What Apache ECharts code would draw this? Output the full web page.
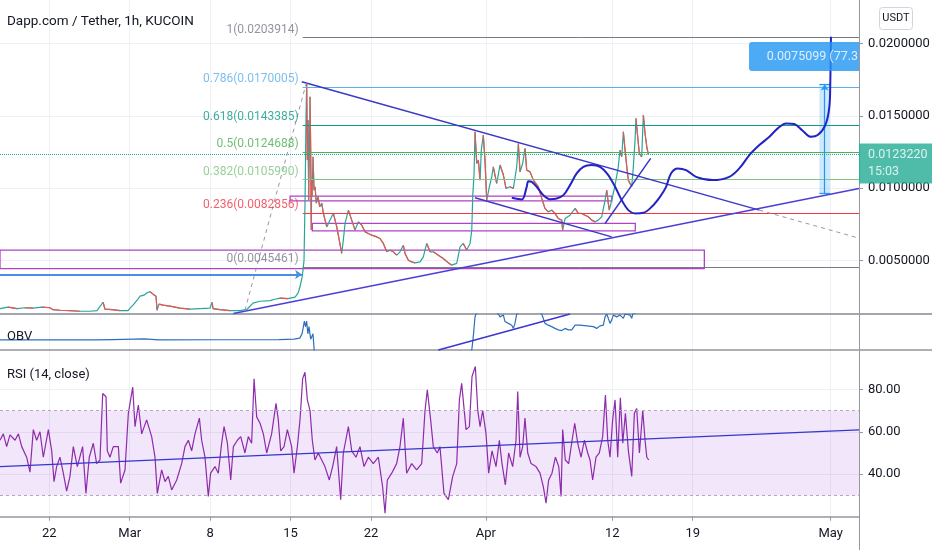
<!DOCTYPE html>
<html><head><meta charset="utf-8">
<script src="https://cdn.jsdelivr.net/npm/echarts/dist/echarts.min.js"></script>
<style>html,body{margin:0;padding:0;background:#fff}#c{width:932px;height:550px}</style>
</head><body><div id="c"></div>
<script>
// ---- axis ticks (days from 1 Mar 2021) ----
const tickDays = [-7, 0, 7, 14, 21, 31, 42, 49, 61];
const tickLabels = ['22', 'Mar', '8', '15', '22', 'Apr', '12', '19', 'May'];
const priceTicks = [0.005, 0.010, 0.015, 0.020];
const rsiTicks = [40, 60, 80];

// ---- price path [day, price] ----
const price = [[-11.29,0.00169],[-10.59,0.00179],[-9.81,0.00169],[-9.11,0.00175],[-8.42,0.00172],[-7.63,0.00179],[-6.94,0.00175],[-6.68,0.00162],[-6.07,0.00158],[-5.20,0.00155],[-4.33,0.00151],[-3.46,0.00151],[-2.85,0.00155],[-2.32,0.00213],[-2.15,0.00165],[-1.54,0.00162],[-0.84,0.00155],[-0.15,0.00155],[0.03,0.00172],[0.29,0.00193],[0.64,0.00227],[0.90,0.00255],[1.24,0.00262],[1.51,0.00279],[1.77,0.00286],[2.03,0.00269],[2.29,0.00255],[2.38,0.00158],[2.55,0.00200],[2.90,0.00193],[3.50,0.00186],[4.37,0.00172],[5.24,0.00165],[6.12,0.00169],[6.99,0.00172],[7.16,0.00213],[7.25,0.00169],[7.86,0.00162],[8.73,0.00155],[9.60,0.00155],[10.21,0.00165],[10.73,0.00207],[11.34,0.00220],[12.21,0.00224],[12.64,0.00234],[13.08,0.00241],[13.78,0.00238],[14.39,0.00248],[14.65,0.00276],[14.82,0.00320],[15.00,0.00386],[15.08,0.00434],
[15.17,0.00503],[15.26,0.00918],[15.34,0.01470],[15.40,0.01722],[15.46,0.01194],[15.52,0.01470],[15.58,0.00918],[15.63,0.01194],[15.69,0.01631],[15.75,0.01263],[15.80,0.00711],[15.84,0.01056],[15.87,0.00945],[15.95,0.01217],[16.04,0.00987],[16.13,0.01010],[16.24,0.00897],[16.39,0.00941],[16.54,0.00872],[16.71,0.00897],[16.85,0.00828],[17.15,0.00733],[17.43,0.00780],[17.72,0.00828],[18.02,0.00733],[18.45,0.00550],[18.59,0.00642],[18.74,0.00757],[19.03,0.00849],[19.32,0.00780],[19.61,0.00711],[19.90,0.00768],[20.19,0.00745],[20.48,0.00699],[20.77,0.00688],[21.06,0.00676],[21.50,0.00664],[21.78,0.00653],[22.07,0.00619],[22.37,0.00561],[22.65,0.00573],[22.94,0.00561],[23.24,0.00538],[23.52,0.00561],[23.81,0.00607],[23.96,0.00550],[24.25,0.00503],[24.54,0.00492],[24.83,0.00485],[25.27,0.00492],[25.55,0.00526],[25.85,0.00619],[26.14,0.00561],[26.42,0.00561],[26.86,0.00538],[27.29,0.00515],[27.73,0.00485],[28.02,0.00469],[28.46,0.00481],[28.75,0.00595],[29.03,0.00619],[29.33,0.00573],[29.62,0.00619],[29.77,0.00711],[29.85,0.00941],[29.97,0.01102],[30.05,0.01390],[30.20,0.01171],[30.34,0.01194],[30.49,0.01056],[30.60,0.01263],[30.77,0.01367],[30.92,0.01194],[31.07,0.00918],[31.30,0.01010],[31.51,0.01079],[31.64,0.01148],[31.94,0.01033],[32.23,0.01160],[32.52,0.01091],[32.75,0.00999],[33.10,0.01010],[33.39,0.00999],[33.68,0.01148],[33.82,0.01309],[33.97,0.01113],[34.20,0.01171],[34.40,0.01275],[34.55,0.01125],[34.84,0.01113],[35.13,0.01056],[35.56,0.01010],[35.86,0.00930],[36.14,0.00861],[36.43,0.00837],[36.73,0.00849],[37.01,0.00826],[37.30,0.00791],[37.60,0.00780],[37.68,0.00711],[37.89,0.00791],[38.32,0.00814],[38.76,0.00861],[39.04,0.00826],[39.34,0.00826],[39.63,0.00814],[39.91,0.00803],[40.21,0.00780],[40.50,0.00768],[40.78,0.00780],[41.08,0.00803],[41.37,0.00918],[41.51,0.00987],[41.65,0.00897],[41.74,0.00849],[41.95,0.00918],[42.15,0.00987],[42.32,0.01056],[42.52,0.01148],[42.67,0.01263],[42.82,0.01217],[42.96,0.01390],[43.11,0.01263],[43.26,0.01148],[43.39,0.01056],[43.69,0.01010],[43.83,0.01148],[43.98,0.01332],[44.06,0.01482],[44.18,0.01378],[44.35,0.01240],[44.56,0.01217],[44.70,0.01505],[44.85,0.01378],[45.00,0.01286],[45.14,0.01232]];
const lastPrice = 0.0123220;
const lastTime = '15:03';

// ---- OBV (pane-relative units) ----
const obv = [[-11.29,28],[-3,28],[-1.5,29],[1.3,31],[2.5,28],[8,28.5],[13,29],[14.3,30],[14.8,33],[15.0,45],[15.2,80],[15.3,65],[15.4,80],[15.5,45],[15.6,65],[15.75,30],[15.85,28],[15.95,45],[16.1,-20],[17,-150],[25,-250],[29.5,-100],[29.77,0],[29.9,37],[30.05,92],[30.14,100],[31,130],[32.08,100],[32.23,92],[32.52,97],[32.66,79],[32.95,74],[33.25,69],[33.39,60],[33.53,74],[33.68,100],[34.8,125],[35.86,100],[36.14,74],[36.43,69],[36.72,65],[37.01,60],[37.30,56],[37.60,54],[37.89,60],[38.17,56],[38.47,56],[38.76,69],[39.19,69],[39.77,67],[40.35,65],[40.64,60],[40.93,67],[41.22,69],[41.37,92],[41.51,100],[41.65,88],[41.80,74],[41.94,83],[42.09,97],[42.38,92],[42.68,97],[42.96,88],[43.11,100],[43.54,97],[43.69,88],[43.78,100],[45.14,115]];
const obvTrend = [[26.86,0],[38.32,100]];

// ---- RSI (14, close) ----
const rsi = [[-11.29,56],[-11.0,59],[-10.71,53],[-10.42,58.5],[-9.98,56],[-9.69,59],[-9.40,53],[-8.97,48],[-8.68,41],[-8.39,61],[-8.10,56],[-7.81,60],[-7.52,48],[-7.08,61],[-6.79,51],[-6.59,36.5],[-6.36,43.6],[-6.07,48],[-5.78,40.5],[-5.49,32],[-5.20,39],[-4.91,53],[-4.56,43.6],[-4.10,53],[-3.81,31],[-3.52,48],[-3.17,54.6],[-2.88,45],[-2.59,46.7],[-2.35,78],[-2.06,76.5],[-1.95,51],[-1.72,48],[-1.43,53],[-0.99,53],[-0.79,35.8],[-0.41,42],[-0.12,68.7],[0.26,81],[0.46,62.4],[0.75,72.6],[1.04,59],[1.47,65.6],[1.91,57.7],[2.20,48],[2.40,31],[2.78,42],[3.07,36.5],[3.36,39],[3.65,32.6],[4.09,37.3],[4.52,45],[4.81,53],[5.10,56],[5.39,51],[5.68,59],[6.06,66.4],[6.26,56],[6.55,48],[6.84,29.5],[7.04,40.5],[7.42,43.6],[7.71,40.5],[8.00,54.6],[8.21,62.4],[8.50,54.6],[8.79,37.3],[9.02,53],[9.37,56],[9.66,57.7],[10.03,50],[10.32,57.7],[10.61,54.6],[10.82,85],[11.05,67],[11.34,64],[11.63,59],[11.92,50],[12.35,59],[12.73,73.4],[12.93,65.6],[13.14,51],[13.43,53],[13.72,61],[14.09,53],[14.30,40.5],[14.59,53],[14.82,65.6],[15.05,85],[15.25,88],[15.46,75],[15.69,70],[15.89,56],[16.12,46.7],[16.41,50],[16.71,46.7],[16.99,43.6],[17.37,37.3],[17.66,43.6],[18.01,53],[18.36,28],[18.59,50],[19.03,62.4],[19.32,51],[19.69,48],[20.04,53],[20.39,43.6],[20.77,48],[21.20,45],[21.64,48],[22.01,34],[22.22,21.6],[22.42,37.3],[22.80,40.5],[23.23,45],[23.52,53],[23.81,66.4],[24.10,40.5],[24.54,45],[24.97,42],[25.41,45],[25.70,70],[25.90,79.7],[26.19,65.6],[26.42,53],[26.77,50],[27.00,53],[27.35,31],[27.73,28],[28.11,39],[28.46,45],[28.69,75],[28.89,82.8],[29.27,61],[29.56,62.4],[29.79,86],[30.08,90.7],[30.29,70],[30.49,62.4],[30.72,70],[31.01,59],[31.24,40.5],[31.53,51],[31.88,43.6],[32.17,56],[32.40,45],[32.69,35],[32.98,50],[33.33,43.6],[33.62,56],[33.77,79],[33.97,48],[34.20,53],[34.40,66.4],[34.64,50],[34.93,45],[35.36,43.6],[35.71,40.5],[36.00,34],[36.23,26.4],[36.46,37.3],[36.75,40.5],[37.05,48],[37.34,43.6],[37.54,29.5],[37.68,61],[37.91,46.7],[38.20,45],[38.50,56],[38.73,64],[38.99,54.6],[39.28,48],[39.57,56],[39.86,50],[40.06,46.7],[40.29,37.3],[40.58,48],[40.87,50],[41.16,57.7],[41.40,77.3],[41.60,56],[41.80,48],[42.03,65.6],[42.24,75],[42.47,48],[42.70,76],[42.91,54.6],[43.14,68.7],[43.40,51],[43.69,39],[43.92,68.7],[44.12,71],[44.36,50],[44.65,70],[44.85,56],[45.00,48],[45.17,46.7]];
const rsiBand = [30, 70];
const rsiTrend = [[-11.29,43.6],[63.47,60.9]];

// ---- Fibonacci retracement ----
const fibStart = 15.05;
const fibLevels = [1, 0.786, 0.618, 0.5, 0.382, 0.236, 0];
const fibPrices = [0.0203914, 0.0170005, 0.0143385, 0.0124688, 0.0105990, 0.0082856, 0.0045461];
const fibColors = ['#787b86', '#5eaeea', '#0f9a86', '#4caf50', '#7cc47f', '#f23645', '#787b86'];

// ---- drawings ----
const zones = [[-12,0.005725,50.01,0.004448],[13.96,0.009455,41.95,0.00913],[15.89,0.007569,44.0,0.007058]];
const trendLines = [[14.97,0.017348,54.80,0.008488],[9.02,0.001354,63.47,0.009986],[30.05,0.009337,41.95,0.006644],[41.37,0.007569,45.34,0.012058]];
const dashedLines = [[54.80,0.008488,63.47,0.006554],[10.03,0.001582,15.40,0.01735]];
const arrowLine = [-11.29, 0.004047, 15.0, 0.004047];
const brushPath = [[33.25,0.009337],[34.12,0.009227],[34.55,0.010097],[34.69,0.010490],[34.99,0.010442],[35.42,0.010097],[36.0,0.009524],[36.58,0.009247],[37.16,0.009296],[37.74,0.009524],[38.32,0.010214],[38.90,0.011022],[39.48,0.011478],[40.21,0.011595],[40.93,0.011478],[41.65,0.010905],[42.24,0.010097],[42.82,0.009178],[43.39,0.008488],[43.98,0.00826],[44.70,0.008301],[45.43,0.008716],[46.15,0.009406],[46.68,0.010097],[47.11,0.011022],[47.69,0.011367],[48.42,0.01125],[49.29,0.010787],[50.74,0.01056],[52.18,0.010787],[53.05,0.011367],[53.93,0.012286],[54.80,0.012977],[55.67,0.01355],[56.40,0.01413],[57.12,0.014475],[57.84,0.014427],[58.57,0.013964],[59.29,0.01355],[59.88,0.013667],[60.54,0.014358],[60.89,0.015622],[60.97,0.017238],[61.03,0.020456]];
const measure = {d0: 60.02, d1: 60.95, from: 0.00965, to: 0.01716};
const measureText = '0.0075099 (77.30%)';
const measureLabelPrice = 0.01909;

// ---- layout constants ----
const X_MIN = -11.29, X_MAX = 63.47, Y_MIN = 0.00132, Y_MAX = 0.02299;
const FONT = 'Roboto, "Noto Sans", sans-serif';
const TXT = '#131722';

const priceDown = [];
for (let i = 1; i < price.length; i++) {
  if (price[i][1] < price[i - 1][1]) priceDown.push(price[i - 1], price[i], [price[i][0], null]);
}

const gridLine = {show: true, lineStyle: {color: '#eef0f4', width: 1}};
function xAxis(gi) {
  const bottom = gi === 2;
  return {type: 'value', gridIndex: gi, min: X_MIN, max: X_MAX,
    axisLine: {show: bottom, onZero: false, lineStyle: {color: '#9598a1', width: 1.5}},
    axisTick: {show: bottom, customValues: tickDays, length: 4, lineStyle: {color: '#9598a1'}},
    axisLabel: {show: bottom, customValues: tickDays, margin: 11, fontSize: 13, fontFamily: FONT, color: TXT,
      formatter: v => { const i = tickDays.indexOf(Math.round(v)); return i < 0 ? '' : tickLabels[i]; }},
    splitLine: gridLine};
}
function yAxis(gi, min, max, ticks, digits) {
  return {type: 'value', gridIndex: gi, position: 'right', min, max,
    axisLine: {show: false, onZero: false},
    axisTick: {show: !!ticks, customValues: ticks || undefined, length: 4, lineStyle: {color: '#9598a1'}},
    axisLabel: {show: !!ticks, customValues: ticks || undefined, formatter: v => v.toFixed(digits), margin: 9, fontSize: 13, fontFamily: FONT, color: TXT},
    splitLine: ticks ? gridLine : {show: false}};
}
const ml = (a, color, width, type) => [{coord: [a[0], a[1]], lineStyle: {color, width, type}}, {coord: [a[2], a[3]]}];

const option = {
  animation: false,
  backgroundColor: '#ffffff',
  textStyle: {fontFamily: FONT},
  title: [
    {text: 'Dapp.com / Tether, 1h, KUCOIN', left: 2, top: 10, textStyle: {fontSize: 13.5, fontWeight: 'normal', color: TXT, fontFamily: FONT}},
    {text: 'OBV', left: 2, top: 325, textStyle: {fontSize: 13, fontWeight: 'normal', color: TXT, fontFamily: FONT}},
    {text: 'RSI (14, close)', left: 2, top: 363, textStyle: {fontSize: 13, fontWeight: 'normal', color: TXT, fontFamily: FONT}}
  ],
  grid: [
    {left: 0, right: 73, top: 0, height: 314, outerBoundsMode: 'none'},
    {left: 0, right: 73, top: 314, height: 36, outerBoundsMode: 'none'},
    {left: 0, right: 73, top: 350, height: 166.7, outerBoundsMode: 'none'}
  ],
  xAxis: [xAxis(0), xAxis(1), xAxis(2)],
  yAxis: [yAxis(0, Y_MIN, Y_MAX, priceTicks, 7), yAxis(1, 0, 100, null, 0), yAxis(2, 20, 98.5, rsiTicks, 2)],
  series: [
    // price (up colour) with drawings attached
    {type: 'line', name: 'price', xAxisIndex: 0, yAxisIndex: 0, data: price, showSymbol: false, z: 3,
     lineStyle: {color: '#26a69a', width: 1.2},
     markArea: {silent: true, z: 1,
       data: zones.map(z => [{coord: [z[0], z[1]], itemStyle: {color: 'rgba(0,0,0,0)', borderColor: '#ae43c4', borderWidth: 1.3}}, {coord: [z[2], z[3]]}])},
     markLine: {silent: true, symbol: 'none', label: {show: false}, z: 4,
       data: [
         ml([X_MIN, lastPrice, X_MAX, lastPrice], '#26a69a', 1, 'dotted'),
         ...fibPrices.map((p, i) => ml([fibStart, p, X_MAX, p], fibColors[i], 1, 'solid')),
         ...trendLines.map((t, i) => ml(t, i === 1 ? '#4b3fd6' : '#3a38c6', 1.5, 'solid')),
         ...dashedLines.map(t => ml(t, '#9598a1', 1, [4, 4]))
       ]}},
    // price (down colour)
    {type: 'line', xAxisIndex: 0, yAxisIndex: 0, data: priceDown, showSymbol: false, z: 3, connectNulls: false,
     lineStyle: {color: '#ef5350', width: 1.2}},
    // arrow line
    {type: 'line', xAxisIndex: 0, yAxisIndex: 0, data: [], z: 4,
     markLine: {silent: true, symbol: ['none', 'arrow'], symbolSize: 7, label: {show: false},
       data: [ml(arrowLine, '#4a90e2', 2, 'solid')]}},
    // fib labels
    {type: 'scatter', xAxisIndex: 0, yAxisIndex: 0, symbolSize: 0, z: 6, silent: true,
     data: fibPrices.map((p, i) => ({value: [fibStart, p], label: {color: fibColors[i]}})),
     label: {show: true, position: 'left', distance: 4, offset: [0, -8], fontSize: 12, fontFamily: FONT,
       formatter: pr => fibLevels[pr.dataIndex] + '(' + fibPrices[pr.dataIndex].toFixed(7) + ')'}},
    // hand-drawn projection path + measure
    {type: 'line', xAxisIndex: 0, yAxisIndex: 0, data: brushPath, smooth: 0.35, showSymbol: false, z: 5,
     lineStyle: {color: '#2323c4', width: 2},
     markArea: {silent: true, z: 2,
       data: [[{coord: [measure.d0, measure.from], itemStyle: {color: 'rgba(33,150,243,0.22)'}}, {coord: [measure.d1, measure.to]}]]},
     markLine: {silent: true, label: {show: false}, symbol: 'none', z: 4,
       data: [
         [{coord: [(measure.d0 + measure.d1) / 2, measure.from], symbol: 'none', lineStyle: {color: '#2196f3', width: 1.2, type: 'solid'}}, {coord: [(measure.d0 + measure.d1) / 2, measure.to], symbol: 'arrow', symbolSize: 6}],
         ml([measure.d0, measure.to, measure.d1, measure.to], '#2196f3', 1.2, 'solid'),
         ml([measure.d0, measure.from, measure.d1, measure.from], '#2196f3', 1.2, 'solid')
       ]}},
    // last price label
    {type: 'scatter', xAxisIndex: 0, yAxisIndex: 0, symbolSize: 0, z: 20, silent: true, clip: false,
     data: [[X_MAX, lastPrice]],
     label: {show: true, position: 'right', distance: 0, offset: [0, 9], color: '#fff', fontSize: 12.5, fontFamily: FONT,
       lineHeight: 17, padding: [3, 5, 3, 9], backgroundColor: '#22ab94',
       formatter: () => lastPrice.toFixed(7) + '\n' + lastTime}},
    // measure label
    {type: 'scatter', xAxisIndex: 0, yAxisIndex: 0, symbolSize: 0, z: 20, silent: true, clip: false,
     data: [[X_MAX, measureLabelPrice]],
     label: {show: true, position: 'left', distance: 0, color: '#fff', fontSize: 12.5, fontFamily: FONT,
       width: 100, overflow: 'truncate', ellipsis: '', padding: [8, 1, 8, 9], backgroundColor: '#2196f3', borderRadius: [3, 0, 0, 3],
       formatter: () => measureText}},
    // OBV
    {type: 'line', xAxisIndex: 1, yAxisIndex: 1, data: obv, showSymbol: false, z: 3, clip: true,
     lineStyle: {color: '#2e6fba', width: 1.2},
     markLine: {silent: true, symbol: 'none', label: {show: false},
       data: [[{coord: obvTrend[0], lineStyle: {color: '#3a36d0', width: 1.4, type: 'solid'}}, {coord: obvTrend[1]}]]}},
    // RSI
    {type: 'line', xAxisIndex: 2, yAxisIndex: 2, data: rsi, showSymbol: false, z: 4,
     lineStyle: {color: '#8e2bab', width: 1.2},
     markArea: {silent: true, itemStyle: {color: 'rgba(149,65,220,0.13)'},
       data: [[{yAxis: rsiBand[0]}, {yAxis: rsiBand[1]}]]},
     markLine: {silent: true, symbol: 'none', label: {show: false},
       data: [
         ml([X_MIN, rsiBand[0], X_MAX, rsiBand[0]], '#b3a8bf', 1, [3, 3]),
         ml([X_MIN, rsiBand[1], X_MAX, rsiBand[1]], '#b3a8bf', 1, [3, 3]),
         [{coord: rsiTrend[0], lineStyle: {color: '#3535d0', width: 1.3, type: 'solid'}}, {coord: rsiTrend[1]}]
       ]}}
  ],
  graphic: [
    {type: 'line', z: 1, silent: true, shape: {x1: 0, y1: 314, x2: 932, y2: 314}, style: {stroke: '#a3a6af', lineWidth: 2}},
    {type: 'line', z: 1, silent: true, shape: {x1: 0, y1: 350, x2: 932, y2: 350}, style: {stroke: '#5d606b', lineWidth: 1}},
    {type: 'line', z: 1, silent: true, shape: {x1: 859.5, y1: 0, x2: 859.5, y2: 550}, style: {stroke: '#9598a1', lineWidth: 1}},
    {type: 'group', left: 879, top: 7, silent: true, children: [
      {type: 'rect', shape: {x: 0, y: 0, width: 33, height: 22, r: 3}, style: {fill: '#fff', stroke: '#d1d4dc', lineWidth: 1}},
      {type: 'text', x: 16.5, y: 11, style: {text: 'USDT', fill: TXT, fontSize: 11, fontFamily: FONT, align: 'center', verticalAlign: 'middle'}}
    ]}
  ]
};
const chart = echarts.init(document.getElementById('c'));
chart.setOption(option);
</script></body></html>
